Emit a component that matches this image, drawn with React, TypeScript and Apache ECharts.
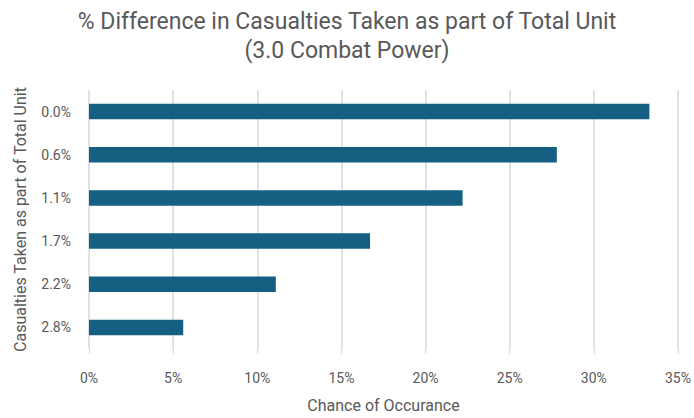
import React, { useEffect, useRef } from "react";
import * as echarts from "echarts";

const categories = ["0.0%", "0.6%", "1.1%", "1.7%", "2.2%", "2.8%"];
const chance = [33.3, 27.8, 22.2, 16.7, 11.1, 5.6];
const titleLines = ["% Difference in Casualties Taken as part of Total Unit", "(3.0 Combat Power)"];
const xAxisName = "Chance of Occurance";
const yAxisName = "Casualties Taken as part of Total Unit";

const FONT = "Roboto, 'Noto Sans', sans-serif";
const TEXT = "#595959";

export default function App() {
  const ref = useRef<HTMLDivElement>(null);

  useEffect(() => {
    if (!ref.current) return;
    const chart = echarts.init(ref.current, undefined, { renderer: "svg" });
    chart.setOption({
      animation: false,
      backgroundColor: "#ffffff",
      textStyle: { fontFamily: FONT },
      title: {
        text: titleLines.join("\n"),
        left: "center",
        top: 2,
        textStyle: { fontFamily: FONT, fontSize: 23, fontWeight: "normal", color: TEXT, lineHeight: 29 },
      },
      grid: { left: 89, right: 15, top: 90, bottom: 60, containLabel: false },
      xAxis: {
        type: "value",
        min: 0,
        max: 35,
        interval: 5,
        name: xAxisName,
        nameLocation: "middle",
        nameGap: 48,
        nameTextStyle: { fontFamily: FONT, fontSize: 16, color: TEXT },
        axisLine: { show: false },
        axisTick: { show: true, length: 5, lineStyle: { color: "#d9d9d9", width: 1 } },
        axisLabel: { formatter: "{value}%", color: TEXT, fontSize: 14, margin: 22, fontFamily: FONT },
        splitLine: { show: true, lineStyle: { color: "#d9d9d9", width: 1.5 } },
      },
      yAxis: {
        type: "category",
        data: categories,
        inverse: true,
        name: yAxisName,
        nameLocation: "middle",
        nameGap: 61,
        nameRotate: 90,
        nameTextStyle: { fontFamily: FONT, fontSize: 16, color: TEXT },
        axisLine: { show: false },
        axisTick: { show: false },
        axisLabel: { color: TEXT, fontSize: 14, margin: 18, fontFamily: FONT },
        splitLine: { show: false },
      },
      series: [
        {
          type: "bar",
          data: chance,
          barWidth: "36%",
          itemStyle: { color: "#156082" },
        },
      ],
    });
    return () => chart.dispose();
  }, []);

  return <div ref={ref} style={{ width: 694, height: 418, position: "absolute", left: 0, top: 0 }} />;
}
